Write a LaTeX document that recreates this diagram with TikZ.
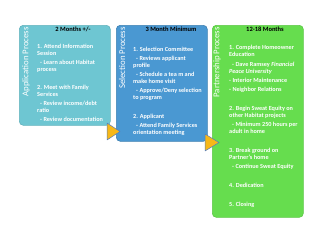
\documentclass[tikz,border=0pt]{standalone}
\usepackage{fontspec}
\setmainfont{Carlito}
\definecolor{appcol}{RGB}{110,198,210}
\definecolor{selcol}{RGB}{74,152,210}
\definecolor{parcol}{RGB}{102,221,78}
\definecolor{arrcol}{RGB}{247,184,24}
\definecolor{arredge}{RGB}{84,124,190}
\tikzstyle{stage}=[draw,rounded corners=4pt,line width=0.6pt,anchor=north west,inner sep=0pt]
\tikzstyle{side}=[rotate=90,anchor=east,text=white,font=\fontsize{8.8}{10}\selectfont,inner sep=0pt]
\tikzstyle{head}=[font=\bfseries\fontsize{6.5}{8}\selectfont,inner sep=0pt]
\tikzstyle{body}=[anchor=north west,align=left,text=white,font=\bfseries\fontsize{6.2}{7}\selectfont,inner sep=0pt]
\tikzstyle{tri}=[draw=arredge,fill=arrcol,line width=0.5pt,line join=round]

\begin{document}
\begin{tikzpicture}[x=1pt,y=-1pt]
    \useasboundingbox (0,0) rectangle (320,226);
    \node[stage,fill=appcol,draw=appcol!90!black,minimum width=91pt,minimum height=100pt] (app) at (19,25) {};
    \node[stage,fill=selcol,draw=selcol!85!black,minimum width=91pt,minimum height=116pt] (sel) at (116,25) {};
    \node[stage,fill=parcol,draw=parcol!90!black,minimum width=91pt,minimum height=192pt] (par) at (212,25) {};
    \node[side] (appside) at (26,27) {Application Process};
    \node[side] (selside) at (122,27) {Selection Process};
    \node[side] (parside) at (217,27) {Partnership Process};
    \node[head] (apphead) at (73,29) {2 Months +/-};
    \node[head] (selhead) at (171,29) {3 Month Minimum};
    \node[head] (parhead) at (265,29) {12-18 Months};
    \node[body] (appbody) at (37,44) {1. Attend Information\\
      Session\\[2pt]
      \hspace*{3pt}- Learn about Habitat\\
      process\\[11pt]
      2. Meet with Family\\
      Services\\[2pt]
      \hspace*{3pt}- Review income/debt\\
      ratio\\[2pt]
      \hspace*{3pt}- Review documentation};
    \node[body] (selbody) at (133,47) {1. Selection Committee\\[2pt]
      \hspace*{3pt}- Reviews applicant\\
      profile\\[2pt]
      \hspace*{3pt}- Schedule a tea m and\\
      make home visit\\[2pt]
      \hspace*{3pt}- Approve/Deny selection\\
      to program\\[12pt]
      2. Applicant\\[2pt]
      \hspace*{3pt}- Attend Family Services\\
      orientation meeting};
    \node[body] (parbody) at (229,45) {1. Complete Homeowner\\
      Education\\[3pt]
      \hspace*{3pt}- Dave Ramsey \textit{Financial}\\
      \textit{Peace University}\\[2pt]
      - Interior Maintenance\\[2pt]
      - Neighbor Relations\\[12pt]
      2. Begin Sweat Equity on\\
      other Habitat projects\\[2pt]
      \hspace*{3pt}- Minimum 250 hours per\\
      adult in home\\[12pt]
      3. Break ground on\\
      Partner's home\\[2pt]
      \hspace*{3pt}- Continue Sweat Equity\\[12pt]
      4. Dedication\\[12pt]
      5. Closing};
    \coordinate (T1) at (107,131.5);
    \coordinate (T2) at (205,142.5);
    \draw[tri] (T1) ++(0,-8.5) -- ++(13,8.5) -- ++(-13,8.5) -- cycle;
    \draw[tri] (T2) ++(0,-8.5) -- ++(14,8.5) -- ++(-14,8.5) -- cycle;
  \end{tikzpicture}
\end{document}
